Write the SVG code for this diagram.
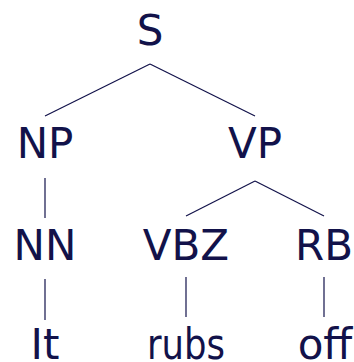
<svg xmlns="http://www.w3.org/2000/svg" width="354" height="362" viewBox="0 0 354 362">
<style>
text{font-family:"DejaVu Sans",sans-serif;font-size:42px;fill:#12124a;text-anchor:middle}
line{stroke:#12124a;stroke-width:1.2}
</style>
<rect width="354" height="362" fill="#fff"/>
<g id="connectors">
<line x1="150" y1="64" x2="45" y2="116"/>
<line x1="150" y1="64" x2="255" y2="116"/>
<line x1="45" y1="178" x2="45" y2="218"/>
<line x1="45" y1="279" x2="45" y2="320"/>
<line x1="255" y1="181" x2="186" y2="216"/>
<line x1="255" y1="181" x2="324" y2="216"/>
<line x1="186" y1="277" x2="186" y2="317"/>
<line x1="324" y1="277" x2="324" y2="317"/>
</g>
<g id="S"><text x="150" y="45">S</text></g>
<g id="NP"><text x="45" y="158">NP</text></g>
<g id="VP"><text x="255" y="158">VP</text></g>
<g id="NN"><text x="45" y="260">NN</text></g>
<g id="VBZ"><text x="186" y="260">VBZ</text></g>
<g id="RB"><text x="324" y="260">RB</text></g>
<g id="It"><text x="45" y="359">It</text></g>
<g id="rubs"><text x="186" y="359" textLength="78" lengthAdjust="spacingAndGlyphs">rubs</text></g>
<g id="off"><text x="325" y="359">off</text></g>
</svg>
